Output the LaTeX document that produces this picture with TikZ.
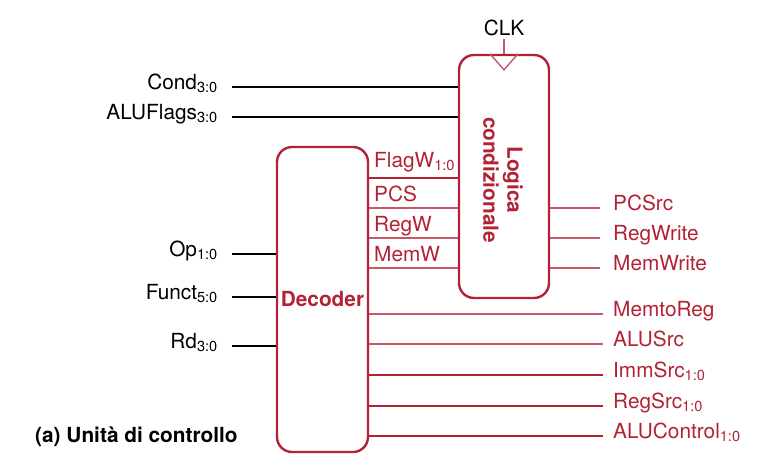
\documentclass[tikz,border=0pt]{standalone}
\usepackage{fontspec}
\setmainfont{TeX Gyre Heros}
\usepackage{tikz}
\usetikzlibrary{positioning,calc}
\definecolor{ctrlred}{RGB}{178,34,52}
\newcommand{\bw}[1]{\textsubscript{#1}}

\begin{document}
\begin{tikzpicture}[
  x=1pt,y=-1pt,
  every node/.style={font=\fontsize{20.8}{24}\selectfont},
  unitbox/.style={rectangle,draw=ctrlred,line width=2.4pt,rounded corners=15pt,inner sep=0pt},
  inlabel/.style={anchor=mid east,inner sep=0pt},
  outlabel/.style={anchor=mid west,inner sep=0pt,text=ctrlred},
  siglabel/.style={anchor=base west,inner sep=0pt,text=ctrlred},
  busin/.style={draw=black,line width=2.6pt},
  busout/.style={draw=ctrlred,line width=2.6pt},
  wireout/.style={draw=ctrlred!75,line width=1.4pt},
]
\useasboundingbox (0,0) rectangle (758,469);

% Blocks
\node[unitbox,minimum width=91pt,minimum height=305pt] (dec) at (322.5,299.5) {};
\node[text=ctrlred,font=\fontsize{20.8}{24}\selectfont\bfseries] (dec_txt) at (dec.center) {Decoder};
\node[unitbox,minimum width=90pt,minimum height=243pt] (cond) at (504,176.5) {};
\node[text=ctrlred,rotate=-90,align=center,font=\fontsize{20.8}{24}\selectfont\bfseries] (cond_txt) at (503,180) {Logica\\condizionale};

% Clock
\node (clk) at (504,28) {CLK};
\draw[wireout] (clk.south) -- (cond.north);
\draw[wireout] ($(cond.north)+(-14,0)$) -- ($(cond.north)+(0,16)$) -- ($(cond.north)+(14,0)$);

% Inputs
\node[inlabel] (l_cond) at (218,87) {Cond\bw{3:0}};
\node[inlabel] (l_flags) at (218,117) {ALUFlags\bw{3:0}};
\node[inlabel] (l_op) at (218,254) {Op\bw{1:0}};
\node[inlabel] (l_funct) at (218,297) {Funct\bw{5:0}};
\node[inlabel] (l_rd) at (218,346) {Rd\bw{3:0}};

\draw[busin] ($(l_cond.mid east)+(14,0)$) -- (cond.west |- l_cond.mid east);
\draw[busin] ($(l_flags.mid east)+(14,0)$) -- (cond.west |- l_flags.mid east);
\draw[busin] ($(l_op.mid east)+(14,0)$) -- (dec.west |- l_op.mid east);
\draw[busin] ($(l_funct.mid east)+(14,0)$) -- (dec.west |- l_funct.mid east);
\draw[busin] ($(l_rd.mid east)+(14,0)$) -- (dec.west |- l_rd.mid east);

% Decoder to conditional logic
\draw[busout] (dec.east |- 0,178) -- (cond.west |- 0,178);
\draw[wireout] (dec.east |- 0,208) -- (cond.west |- 0,208);
\draw[wireout] (dec.east |- 0,238) -- (cond.west |- 0,238);
\draw[wireout] (dec.east |- 0,268) -- (cond.west |- 0,268);
\node[siglabel] (s_flagw) at (374,167) {FlagW\bw{1:0}};
\node[siglabel] (s_pcs) at (374,201) {PCS};
\node[siglabel] (s_regw) at (374,231) {RegW};
\node[siglabel] (s_memw) at (374,261) {MemW};

% Outputs
\node[outlabel] (o_pcsrc) at (613,208) {PCSrc};
\node[outlabel] (o_regwrite) at (613,238) {RegWrite};
\node[outlabel] (o_memwrite) at (613,268) {MemWrite};
\node[outlabel] (o_memtoreg) at (613,314) {MemtoReg};
\node[outlabel] (o_alusrc) at (613,344) {ALUSrc};
\node[outlabel] (o_immsrc) at (613,375) {ImmSrc\bw{1:0}};
\node[outlabel] (o_regsrc) at (613,406) {RegSrc\bw{1:0}};
\node[outlabel] (o_aluctrl) at (613,436) {ALUControl\bw{1:0}};

\draw[wireout] (cond.east |- o_pcsrc.mid west) -- ($(o_pcsrc.mid west)+(-13,0)$);
\draw[wireout] (cond.east |- o_regwrite.mid west) -- ($(o_regwrite.mid west)+(-13,0)$);
\draw[wireout] (cond.east |- o_memwrite.mid west) -- ($(o_memwrite.mid west)+(-13,0)$);
\draw[wireout] (dec.east |- o_memtoreg.mid west) -- ($(o_memtoreg.mid west)+(-10,0)$);
\draw[wireout] (dec.east |- o_alusrc.mid west) -- ($(o_alusrc.mid west)+(-10,0)$);
\draw[busout] (dec.east |- o_immsrc.mid west) -- ($(o_immsrc.mid west)+(-10,0)$);
\draw[busout] (dec.east |- o_regsrc.mid west) -- ($(o_regsrc.mid west)+(-10,0)$);
\draw[busout] (dec.east |- o_aluctrl.mid west) -- ($(o_aluctrl.mid west)+(-10,0)$);

% Caption
\node[anchor=mid west,inner sep=0pt,font=\fontsize{20.8}{24}\selectfont\bfseries] (caption) at (35,440) {(a) Unità di controllo};

\end{tikzpicture}
\end{document}
